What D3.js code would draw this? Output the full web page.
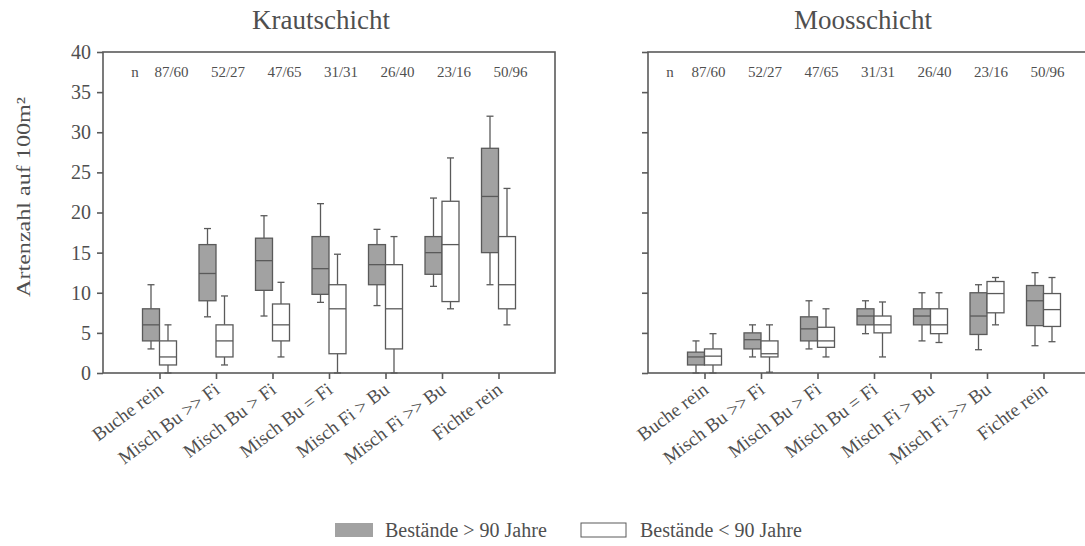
<!DOCTYPE html>
<html>
<head>
<meta charset="utf-8">
<script src="https://cdn.jsdelivr.net/npm/d3@7"></script>
<style>
  html, body { margin: 0; padding: 0; background: #fff; }
  svg { display: block; }
  text { font-family: "Liberation Serif", "Times New Roman", serif; fill: #4f4f4f; }
</style>
</head>
<body>
<svg id="chart" width="1085" height="546"></svg>
<script>
// Bestandestypen (Kategorien) und Stichprobenumfänge (alt/jung)
const categories = ["Buche rein", "Misch Bu >> Fi", "Misch Bu > Fi", "Misch Bu = Fi",
                    "Misch Fi > Bu", "Misch Fi >> Bu", "Fichte rein"];
const sampleSizes = ["87/60", "52/27", "47/65", "31/31", "26/40", "23/16", "50/96"];
const yTicks = [0, 5, 10, 15, 20, 25, 30, 35, 40];

// Boxplot-Kennwerte je Kategorie: [Minimum, Q1, Median, Q3, Maximum]
const krautAlt = [[3, 4, 6, 8, 11], [7, 9, 12.4, 16, 18], [7.1, 10.3, 14, 16.8, 19.6],
                  [8.8, 9.8, 13, 17, 21.1], [8.4, 11, 13.5, 16, 17.9], [10.8, 12.3, 15, 17, 21.8],
                  [11, 15, 22, 28, 32]];
const krautJung = [[0, 1, 2, 4, 6], [1, 2, 4, 6, 9.6], [2, 4, 6, 8.6, 11.3],
                   [0, 2.4, 8, 11, 14.8], [0, 3, 8, 13.5, 17], [8, 8.9, 16, 21.4, 26.8],
                   [6, 8, 11, 17, 23]];
const moosAlt = [[0, 1, 2, 2.6, 4], [2, 3, 4.15, 5, 6], [3, 4, 5.5, 7, 9],
                 [4.9, 6, 7.1, 8, 9], [4, 6, 7.1, 8, 10], [2.9, 4.8, 7.1, 10, 11],
                 [3.4, 5.9, 9, 10.9, 12.5]];
const moosJung = [[0, 1, 2.1, 3, 4.9], [0.1, 2, 2.4, 4, 6], [2, 3.2, 4, 5.7, 8],
                  [2, 5, 6, 7.1, 8.85], [3.8, 4.9, 6, 8, 10], [6, 7.5, 9.9, 11.4, 11.9],
                  [3.9, 5.8, 7.9, 9.9, 11.9]];

const legendLabels = ["Bestände > 90 Jahre", "Bestände < 90 Jahre"];
const yAxisTitle = "Artenzahl auf 100m²";

const colAlt = "#a2a2a2";
const colJung = "#ffffff";
const ink = "#5a5a5a";

const svg = d3.select("#chart");
const plotTop = 52, plotBottom = 373;
const y = d3.scaleLinear().domain([0, 40]).range([plotBottom, plotTop]);
const boxW = 17, capW = 7;

const panels = [
  { title: "Moosschicht", x0: 648, x1: 1100, alt: moosAlt, jung: moosJung, labels: false,
    nDx: 4, nLabelX: 670, titleX: 863 },
  { title: "Krautschicht", x0: 103, x1: 555, alt: krautAlt, jung: krautJung, labels: true,
    nDx: 12, nLabelX: 135, titleX: 321 }
];

panels.forEach(p => {
  const g = svg.append("g");
  const x = d3.scalePoint().domain(categories).range([p.x0, p.x1]).padding(1);

  // Rahmen
  g.append("rect")
    .attr("x", p.x0).attr("y", plotTop)
    .attr("width", p.x1 - p.x0).attr("height", plotBottom - plotTop)
    .attr("fill", "none").attr("stroke", ink).attr("stroke-width", 1.6);

  // y-Achse
  const yAxis = d3.axisLeft(y).tickValues(yTicks).tickSize(6).tickPadding(6).tickSizeOuter(0);
  if (!p.labels) yAxis.tickFormat("");
  const ga = g.append("g").attr("transform", `translate(${p.x0},0)`).call(yAxis);
  ga.select(".domain").remove();
  ga.selectAll(".tick line").attr("stroke", ink).attr("stroke-width", 1.6);
  ga.selectAll(".tick text").style("font-size", "20px").attr("fill", "#4f4f4f")
    .style("font-family", "'Liberation Serif', serif");

  // x-Achse
  const xAxis = d3.axisBottom(x).tickSize(6).tickSizeOuter(0).tickFormat("");
  const gx = g.append("g").attr("transform", `translate(0,${plotBottom})`).call(xAxis);
  gx.select(".domain").remove();
  gx.selectAll(".tick line").attr("stroke", ink).attr("stroke-width", 1.6);

  // gedrehte Kategoriebeschriftung
  g.selectAll("text.cat").data(categories).join("text")
    .attr("class", "cat")
    .attr("transform", d => `translate(${x(d) + 5},${plotBottom + 19}) rotate(-37)`)
    .attr("text-anchor", "end")
    .style("font-size", "19px")
    .text(d => d);

  // Stichprobenumfang
  g.append("text").attr("x", p.nLabelX).attr("y", 77)
    .attr("text-anchor", "middle").style("font-size", "15px").text("n");
  g.selectAll("text.n").data(sampleSizes).join("text")
    .attr("class", "n")
    .attr("x", (d, i) => x(categories[i]) + p.nDx).attr("y", 77)
    .attr("text-anchor", "middle").style("font-size", "15px").text(d => d);

  // Titel
  svg.append("text").attr("x", p.titleX).attr("y", 29).attr("text-anchor", "middle")
    .style("font-size", "27px").text(p.title);

  // Boxplots
  const series = [
    { data: p.alt, fill: colAlt, off: -boxW / 2 },
    { data: p.jung, fill: colJung, off: boxW / 2 }
  ];
  series.forEach(s => {
    const bg = g.selectAll(null).data(s.data).join("g")
      .attr("transform", (d, i) => `translate(${x(categories[i]) + s.off},0)`);
    // Whisker
    bg.append("line").attr("x1", 0).attr("x2", 0)
      .attr("y1", d => y(d[0])).attr("y2", d => y(d[1]))
      .attr("stroke", ink).attr("stroke-width", 1.3);
    bg.append("line").attr("x1", 0).attr("x2", 0)
      .attr("y1", d => y(d[3])).attr("y2", d => y(d[4]))
      .attr("stroke", ink).attr("stroke-width", 1.3);
    bg.append("line").attr("x1", -capW / 2).attr("x2", capW / 2)
      .attr("y1", d => y(d[0])).attr("y2", d => y(d[0]))
      .attr("stroke", ink).attr("stroke-width", 1.3);
    bg.append("line").attr("x1", -capW / 2).attr("x2", capW / 2)
      .attr("y1", d => y(d[4])).attr("y2", d => y(d[4]))
      .attr("stroke", ink).attr("stroke-width", 1.3);
    // Box
    bg.append("rect").attr("x", -boxW / 2).attr("width", boxW)
      .attr("y", d => y(d[3])).attr("height", d => y(d[1]) - y(d[3]))
      .attr("fill", s.fill).attr("stroke", ink).attr("stroke-width", 1.3);
    // Median
    bg.append("line").attr("x1", -boxW / 2).attr("x2", boxW / 2)
      .attr("y1", d => y(d[2])).attr("y2", d => y(d[2]))
      .attr("stroke", ink).attr("stroke-width", 1.3);
  });
});

// y-Achsentitel
svg.append("text")
  .attr("transform", "translate(30,197) rotate(-90)")
  .attr("text-anchor", "middle").style("font-size", "19px")
  .attr("textLength", 200).attr("lengthAdjust", "spacingAndGlyphs")
  .text(yAxisTitle);

// Legende
const legend = svg.append("g");
const legendItems = [
  { fill: colAlt, x: 335, w: 38, tx: 385, label: legendLabels[0] },
  { fill: colJung, x: 581, w: 45, tx: 640, label: legendLabels[1] }
];
legend.selectAll("rect").data(legendItems).join("rect")
  .attr("x", d => d.x).attr("y", 523).attr("width", d => d.w).attr("height", 14)
  .attr("fill", d => d.fill).attr("stroke", d => d.fill === colAlt ? "none" : ink)
  .attr("stroke-width", 1);
legend.selectAll("text").data(legendItems).join("text")
  .attr("x", d => d.tx).attr("y", 537)
  .style("font-size", "20px").text(d => d.label);
</script>
</body>
</html>
